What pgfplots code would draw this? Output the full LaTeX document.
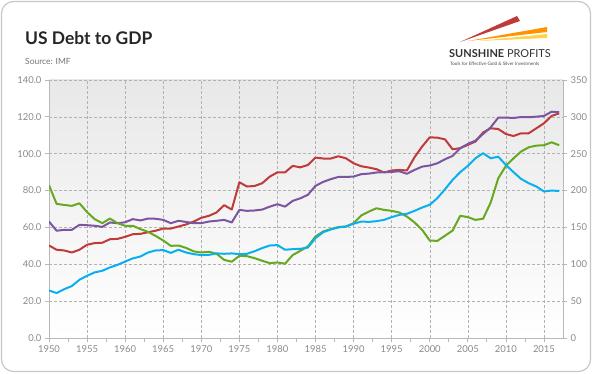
\documentclass[border=0pt]{standalone}
\usepackage{pgfplots}
\pgfplotsset{compat=1.18}
\usepackage{fontspec}
\setmainfont{Lato}
\definecolor{cred}{HTML}{C03A3A}
\definecolor{cpurple}{HTML}{7B55A0}
\definecolor{cgreen}{HTML}{66A820}
\definecolor{cblue}{HTML}{0AB0EE}
\definecolor{tickgray}{HTML}{8A8A8A}
\definecolor{axgray}{HTML}{B8B8B8}
\begin{document}
\begin{tikzpicture}[x=1bp,y=1bp]
\path[use as bounding box] (0,0) rectangle (592,373);
\draw[line width=1.2bp, draw=black!22, fill=white, rounded corners=12bp] (1.5,1.5) rectangle (590.5,371.5);
% title
\node[anchor=base west, font=\fontsize{17.5}{20}\selectfont\bfseries, text=black!85, inner sep=0] at (25,329) {US Debt to GDP};
\node[anchor=base west, font=\fontsize{8.5}{10}\selectfont, text=black!55, inner sep=0] at (25,309) {Source: IMF};
% logo
\fill[cred] (460,331) -- (517,357) -- (520,352) -- cycle;
\fill[orange!85!yellow] (468,332) -- (547,346) -- (547,341) -- cycle;
\fill[orange!50!yellow!70] (478,332) -- (547,339) -- (547,335) -- cycle;
\node[anchor=base west, font=\fontsize{11}{12}\selectfont, text=black!80, inner sep=0] at (449,315.5) {\textbf{SUNSHINE} PROFITS};
\node[anchor=base west, font=\fontsize{4.6}{5}\selectfont, text=black!70, inner sep=0] at (450,308) {Tools for Effective Gold \& Silver Investments};
\begin{axis}[
  at={(49bp,35bp)}, anchor=south west,
  scale only axis, width=514bp, height=258bp,
  xmin=1950, xmax=2017.5, ymin=0, ymax=140,
  axis x line*=bottom, axis y line*=left,
  axis line style={draw=axgray, line width=1bp, -},
  xtick={1950,1955,...,2015}, minor x tick num=1,
  ytick={0,20,...,140},
  grid=major,
  major grid style={densely dashed, draw=black!30, line width=0.5bp},
  tick style={draw=axgray, line width=0.8bp},
  tick align=outside, major tick length=4bp, minor tick length=4bp,
  xticklabel style={/pgf/number format/1000 sep={}, /pgf/number format/assume math mode=true},
  yticklabel style={/pgf/number format/fixed, /pgf/number format/fixed zerofill, /pgf/number format/precision=1, /pgf/number format/assume math mode=true},
  ticklabel style={font=\fontsize{9.5}{10}\selectfont, text=tickgray},
  axis background/.style={shade, top color=black!9, bottom color=white},
  every axis plot/.append style={line width=2bp, line join=round},
]
\addplot[cred] coordinates {
(1950,50.2)(1951,47.9)(1952,47.5)(1953,46.4)(1954,47.9)(1955,50.6)(1956,51.5)(1957,51.7)(1958,53.6)(1959,53.8)
(1960,54.9)(1961,56.3)(1962,56.5)(1963,57.4)(1964,58.2)(1965,59.4)(1966,59.4)(1967,60.5)(1968,61.6)(1969,63.2)
(1970,65.2)(1971,66.3)(1972,68.1)(1973,72.1)(1974,69.7)(1975,84.5)(1976,82.2)(1977,82.5)(1978,84.0)(1979,87.6)
(1980,89.9)(1981,89.9)(1982,93.4)(1983,92.6)(1984,93.9)(1985,97.9)(1986,97.4)(1987,97.4)(1988,98.6)(1989,97.5)
(1990,94.8)(1991,93.2)(1992,92.5)(1993,91.6)(1994,89.8)(1995,90.9)(1996,91.2)(1997,90.9)(1998,98.1)(1999,103.9)
(2000,108.9)(2001,108.7)(2002,107.8)(2003,102.4)(2004,103.0)(2005,104.8)(2006,106.6)(2007,111.5)(2008,113.8)(2009,113.4)
(2010,110.7)(2011,109.6)(2012,111.1)(2013,111.1)(2014,113.8)(2015,116.5)(2016,120.5)(2017,121.9)};
\addplot[cpurple] coordinates {
(1950,63.2)(1951,58.2)(1952,58.7)(1953,58.7)(1954,61.4)(1955,61.2)(1956,60.9)(1957,60.3)(1958,62.7)(1959,62.3)
(1960,62.8)(1961,64.5)(1962,63.8)(1963,64.8)(1964,64.7)(1965,64.1)(1966,62.3)(1967,63.6)(1968,63.0)(1969,62.3)
(1970,62.3)(1971,63.2)(1972,63.6)(1973,64.1)(1974,62.7)(1975,69.5)(1976,69.0)(1977,69.2)(1978,69.7)(1979,71.3)
(1980,72.6)(1981,71.3)(1982,74.4)(1983,75.8)(1984,77.7)(1985,82.6)(1986,84.7)(1987,86.2)(1988,87.4)(1989,87.4)
(1990,87.6)(1991,88.9)(1992,89.2)(1993,89.8)(1994,90.0)(1995,90.1)(1996,90.5)(1997,89.1)(1998,91.2)(1999,93.0)
(2000,93.6)(2001,94.8)(2002,97.0)(2003,98.8)(2004,103.0)(2005,105.3)(2006,107.1)(2007,110.7)(2008,114.3)(2009,119.6)
(2010,119.6)(2011,119.4)(2012,119.9)(2013,119.8)(2014,120.1)(2015,120.5)(2016,122.8)(2017,122.5)};
\addplot[cgreen] coordinates {
(1950,82.9)(1951,72.8)(1952,72.2)(1953,71.7)(1954,73.1)(1955,68.3)(1956,64.5)(1957,62.3)(1958,64.8)(1959,62.3)
(1960,60.9)(1961,60.9)(1962,59.1)(1963,57.6)(1964,55.4)(1965,52.9)(1966,50.0)(1967,50.2)(1968,48.9)(1969,47.0)
(1970,46.4)(1971,46.8)(1972,45.7)(1973,42.4)(1974,41.4)(1975,44.6)(1976,44.4)(1977,43.3)(1978,41.9)(1979,40.6)
(1980,41.0)(1981,40.3)(1982,45.0)(1983,47.3)(1984,49.7)(1985,55.1)(1986,57.8)(1987,59.1)(1988,60.2)(1989,60.5)
(1990,62.3)(1991,66.5)(1992,68.6)(1993,70.4)(1994,69.5)(1995,69.0)(1996,68.1)(1997,65.9)(1998,62.7)(1999,58.7)
(2000,52.9)(2001,52.7)(2002,55.5)(2003,58.3)(2004,66.3)(2005,65.6)(2006,64.1)(2007,64.7)(2008,73.5)(2009,86.7)
(2010,93.4)(2011,97.5)(2012,101.2)(2013,103.5)(2014,104.4)(2015,104.6)(2016,106.2)(2017,104.6)};
\addplot[cblue] coordinates {
(1950,25.8)(1951,24.4)(1952,26.5)(1953,28.2)(1954,31.6)(1955,33.8)(1956,35.6)(1957,36.5)(1958,38.3)(1959,39.7)
(1960,41.5)(1961,43.2)(1962,44.2)(1963,46.4)(1964,47.5)(1965,47.7)(1966,46.2)(1967,47.9)(1968,46.4)(1969,45.5)
(1970,45.0)(1971,45.1)(1972,45.9)(1973,45.7)(1974,45.9)(1975,45.5)(1976,45.7)(1977,47.1)(1978,48.8)(1979,50.2)
(1980,50.4)(1981,47.9)(1982,48.2)(1983,48.4)(1984,49.1)(1985,54.2)(1986,57.4)(1987,58.9)(1988,60.0)(1989,60.5)
(1990,62.0)(1991,63.2)(1992,63.0)(1993,63.4)(1994,64.1)(1995,65.6)(1996,66.8)(1997,67.4)(1998,69.0)(1999,70.8)
(2000,72.3)(2001,75.9)(2002,80.7)(2003,85.8)(2004,90.0)(2005,93.4)(2006,97.5)(2007,100.3)(2008,97.5)(2009,98.4)
(2010,93.9)(2011,90.0)(2012,86.3)(2013,84.0)(2014,82.2)(2015,79.5)(2016,80.0)(2017,79.8)};
\end{axis}
\begin{axis}[
  at={(49bp,35bp)}, anchor=south west,
  scale only axis, width=514bp, height=258bp,
  xmin=1950, xmax=2017.5, ymin=0, ymax=350,
  axis x line=none, axis y line*=right,
  axis line style={draw=axgray, line width=1bp, -},
  ytick={0,50,...,350},
  tick style={draw=axgray, line width=0.8bp},
  tick align=outside, major tick length=4bp,
  yticklabel style={/pgf/number format/assume math mode=true},
  ticklabel style={font=\fontsize{9.5}{10}\selectfont, text=tickgray},
]
\addplot[draw=none] coordinates {(1950,0)};
\end{axis}
\end{tikzpicture}
\end{document}
